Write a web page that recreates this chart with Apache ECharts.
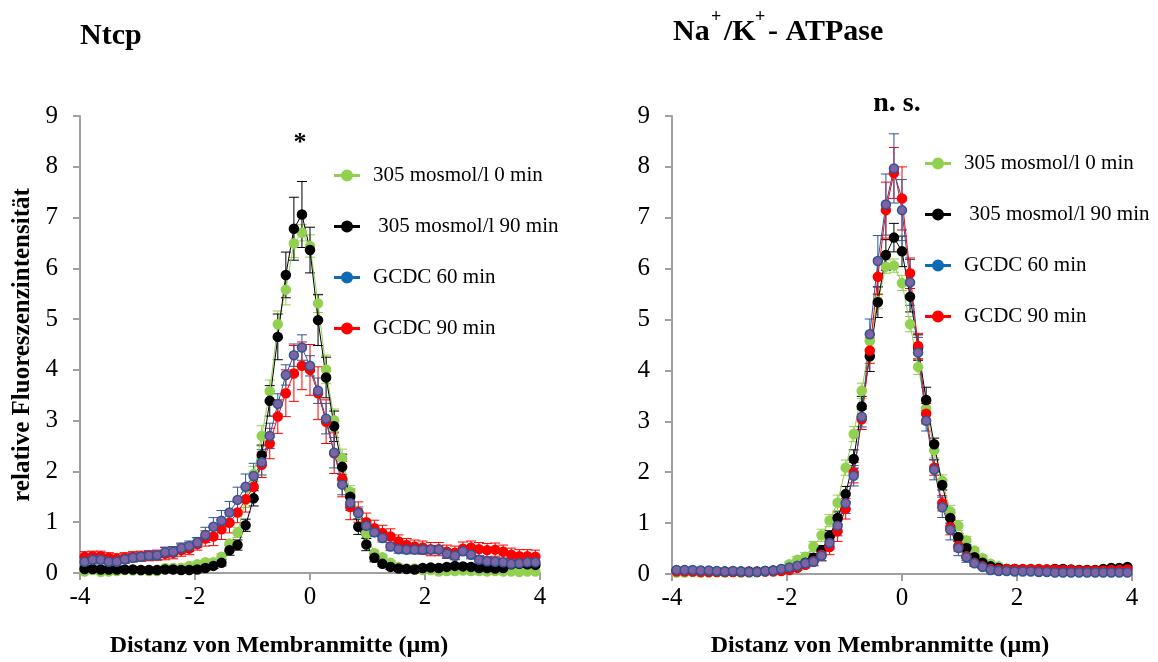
<!DOCTYPE html>
<html><head><meta charset="utf-8">
<script src="https://cdn.jsdelivr.net/npm/echarts@6/dist/echarts.min.js"></script>
<style>html,body{margin:0;padding:0;background:#fff}#c{width:1158px;height:662px}</style>
</head><body><div id="c"></div>
<script>
// Distance from membrane centre (µm)
const xPos = [-3.92,-3.78,-3.64,-3.50,-3.36,-3.22,-3.08,-2.94,-2.80,-2.66,
  -2.52,-2.38,-2.24,-2.10,-1.96,-1.82,-1.68,-1.54,-1.40,-1.26,
  -1.12,-0.98,-0.84,-0.70,-0.56,-0.42,-0.28,-0.14,0,0.14,
  0.28,0.42,0.56,0.70,0.84,0.98,1.12,1.26,1.40,1.54,
  1.68,1.82,1.96,2.10,2.24,2.38,2.52,2.66,2.80,2.94,
  3.08,3.22,3.36,3.50,3.64,3.78,3.92];
const seriesNames = ['305 mosmol/l 0 min', ' 305 mosmol/l 90 min', 'GCDC 60 min', 'GCDC 90 min'];
const xTicks = [-4, -2, 0, 2, 4];
const yTicks = [0,1,2,3,4,5,6,7,8,9];

// ---- Ntcp (left) ----
const ntcp0 = [0.03,0.06,0.02,0.03,0.04,0.06,0.05,0.05,0.04,0.04,
  0.10,0.10,0.10,0.14,0.17,0.21,0.21,0.32,0.58,0.80,
  1.44,1.95,2.70,3.58,4.90,5.58,6.49,6.70,6.44,5.31,
  4.01,3.01,2.26,1.60,1.17,0.78,0.39,0.31,0.20,0.12,
  0.09,0.09,0.06,0.06,0.03,0.04,0.04,0.05,0.04,0.04,
  0.03,0.04,0.03,0.03,0.02,0.03,0.03];
const ntcp0Err = [0.04,0.04,0.04,0.04,0.04,0.04,0.04,0.04,0.04,0.04,
  0.04,0.04,0.04,0.04,0.04,0.04,0.04,0.06,0.08,0.10,
  0.15,0.15,0.20,0.22,0.26,0.30,0.28,0.16,0.22,0.18,
  0.28,0.22,0.18,0.12,0.10,0.08,0.06,0.04,0.04,0.04,
  0.04,0.04,0.04,0.04,0.04,0.04,0.04,0.04,0.04,0.04,
  0.04,0.04,0.04,0.04,0.04,0.04,0.04];
const ntcp90 = [0.08,0.08,0.07,0.07,0.07,0.07,0.07,0.06,0.06,0.06,
  0.07,0.07,0.06,0.06,0.07,0.10,0.14,0.20,0.45,0.55,
  0.94,1.47,2.32,3.39,4.65,5.87,6.78,7.06,6.36,4.98,
  3.85,2.89,2.09,1.50,0.91,0.56,0.30,0.18,0.12,0.09,
  0.08,0.07,0.10,0.11,0.10,0.12,0.14,0.13,0.12,0.10,
  0.10,0.09,0.10,0.17,0.18,0.17,0.16];
const ntcp90Err = [0.05,0.05,0.05,0.05,0.05,0.05,0.05,0.05,0.05,0.05,
  0.05,0.05,0.05,0.05,0.05,0.05,0.05,0.06,0.10,0.10,
  0.12,0.15,0.20,0.30,0.45,0.45,0.62,0.65,0.45,0.50,
  0.40,0.30,0.25,0.15,0.15,0.12,0.08,0.05,0.05,0.05,
  0.05,0.05,0.05,0.05,0.05,0.05,0.05,0.05,0.05,0.05,
  0.05,0.05,0.05,0.05,0.05,0.05,0.05];
const ntcpG60 = [0.22,0.26,0.26,0.22,0.22,0.27,0.30,0.32,0.34,0.35,
  0.41,0.42,0.49,0.53,0.60,0.75,0.91,1.03,1.19,1.44,
  1.70,1.91,2.18,2.70,3.33,3.90,4.29,4.44,4.08,3.59,
  3.04,2.37,1.74,1.38,1.18,0.93,0.80,0.69,0.52,0.47,
  0.46,0.46,0.46,0.46,0.46,0.38,0.34,0.43,0.36,0.26,
  0.23,0.22,0.21,0.18,0.19,0.21,0.21];
const ntcpG60Err = [0.08,0.08,0.08,0.08,0.08,0.08,0.08,0.08,0.08,0.08,
  0.10,0.10,0.10,0.10,0.10,0.15,0.18,0.20,0.22,0.25,
  0.25,0.25,0.25,0.25,0.20,0.20,0.22,0.25,0.20,0.25,
  0.30,0.30,0.20,0.15,0.12,0.10,0.08,0.08,0.08,0.08,
  0.08,0.08,0.08,0.08,0.08,0.08,0.08,0.08,0.08,0.08,
  0.08,0.08,0.08,0.08,0.08,0.08,0.08];
const ntcpG90 = [0.32,0.33,0.33,0.30,0.28,0.30,0.32,0.33,0.34,0.35,
  0.38,0.40,0.45,0.48,0.57,0.68,0.72,0.86,0.99,1.19,
  1.45,1.70,2.13,2.55,3.08,3.54,3.93,4.08,4.00,3.54,
  2.98,2.36,1.85,1.30,1.20,1.00,0.88,0.79,0.72,0.62,
  0.55,0.52,0.50,0.47,0.47,0.42,0.40,0.48,0.50,0.47,
  0.45,0.46,0.42,0.36,0.33,0.33,0.32];
const ntcpG90Err = [0.10,0.10,0.10,0.10,0.10,0.10,0.10,0.10,0.10,0.10,
  0.12,0.12,0.12,0.12,0.12,0.15,0.18,0.20,0.20,0.20,
  0.25,0.25,0.25,0.30,0.33,0.46,0.55,0.47,0.50,0.52,
  0.43,0.40,0.35,0.25,0.20,0.18,0.16,0.15,0.15,0.13,
  0.13,0.13,0.13,0.13,0.13,0.13,0.13,0.13,0.13,0.13,
  0.13,0.13,0.13,0.13,0.13,0.13,0.13];

// ---- Na+/K+-ATPase (right) ----
const atp0 = [0.03,0.03,0.04,0.03,0.03,0.04,0.03,0.04,0.03,0.03,
  0.04,0.05,0.06,0.10,0.19,0.28,0.34,0.54,0.76,1.05,
  1.40,2.09,2.75,3.60,4.58,5.36,6.04,6.06,5.72,4.91,
  4.07,3.26,2.43,1.83,1.23,0.95,0.66,0.46,0.31,0.20,
  0.15,0.10,0.08,0.08,0.07,0.07,0.06,0.06,0.05,0.05,
  0.05,0.05,0.05,0.06,0.06,0.07,0.08];
const atp0Err = [0.03,0.03,0.03,0.03,0.03,0.03,0.03,0.03,0.03,0.03,
  0.03,0.03,0.03,0.04,0.05,0.06,0.08,0.10,0.12,0.12,
  0.15,0.15,0.15,0.15,0.15,0.15,0.13,0.13,0.15,0.15,
  0.15,0.15,0.15,0.12,0.12,0.10,0.08,0.06,0.05,0.03,
  0.03,0.03,0.03,0.03,0.03,0.03,0.03,0.03,0.03,0.03,
  0.03,0.03,0.03,0.03,0.03,0.03,0.03];
const atp90 = [0.07,0.07,0.06,0.06,0.06,0.05,0.05,0.05,0.05,0.05,
  0.05,0.06,0.07,0.08,0.10,0.15,0.22,0.32,0.46,0.75,
  1.10,1.57,2.26,3.29,4.28,5.34,6.27,6.61,6.34,5.45,
  4.45,3.42,2.55,1.75,1.10,0.72,0.51,0.33,0.22,0.15,
  0.12,0.10,0.10,0.09,0.09,0.09,0.09,0.10,0.10,0.09,
  0.08,0.08,0.08,0.10,0.12,0.12,0.14];
const atp90Err = [0.03,0.03,0.03,0.03,0.03,0.03,0.03,0.03,0.03,0.03,
  0.03,0.03,0.03,0.03,0.03,0.05,0.06,0.08,0.10,0.10,
  0.12,0.15,0.18,0.20,0.30,0.30,0.30,0.28,0.30,0.30,
  0.25,0.25,0.12,0.10,0.10,0.08,0.06,0.05,0.03,0.03,
  0.03,0.03,0.03,0.03,0.03,0.03,0.03,0.03,0.03,0.03,
  0.03,0.03,0.03,0.03,0.03,0.03,0.03];
const atpG60 = [0.08,0.08,0.08,0.07,0.07,0.06,0.05,0.06,0.05,0.04,
  0.04,0.06,0.07,0.10,0.13,0.16,0.21,0.24,0.36,0.61,
  0.95,1.39,1.93,3.09,4.71,6.15,7.26,7.97,7.15,5.73,
  4.35,3.01,2.05,1.31,0.87,0.51,0.33,0.21,0.14,0.08,
  0.06,0.06,0.05,0.05,0.05,0.04,0.04,0.03,0.03,0.03,
  0.03,0.03,0.03,0.03,0.03,0.03,0.03];
const atpG60Err = [0.03,0.03,0.03,0.03,0.03,0.03,0.03,0.03,0.03,0.03,
  0.03,0.03,0.03,0.03,0.03,0.05,0.06,0.08,0.10,0.12,
  0.20,0.20,0.20,0.20,0.30,0.50,0.60,0.68,0.60,0.45,
  0.30,0.20,0.20,0.20,0.20,0.15,0.10,0.06,0.03,0.03,
  0.03,0.03,0.03,0.03,0.03,0.03,0.03,0.03,0.03,0.03,
  0.03,0.03,0.03,0.03,0.03,0.03,0.03];
const atpG90 = [0.05,0.05,0.05,0.04,0.04,0.04,0.04,0.04,0.04,0.04,
  0.04,0.05,0.05,0.06,0.08,0.12,0.18,0.25,0.38,0.53,
  0.84,1.28,1.99,3.04,4.39,5.84,7.15,7.88,7.38,5.91,
  4.48,3.15,2.09,1.39,0.92,0.55,0.35,0.22,0.15,0.10,
  0.09,0.10,0.10,0.10,0.10,0.10,0.09,0.09,0.08,0.08,
  0.07,0.07,0.07,0.07,0.08,0.08,0.09];
const atpG90Err = [0.03,0.03,0.03,0.03,0.03,0.03,0.03,0.03,0.03,0.03,
  0.03,0.03,0.03,0.03,0.03,0.05,0.06,0.08,0.12,0.15,
  0.20,0.20,0.20,0.20,0.25,0.35,0.55,0.50,0.62,0.30,
  0.25,0.20,0.15,0.15,0.15,0.10,0.08,0.06,0.04,0.04,
  0.04,0.04,0.04,0.04,0.04,0.04,0.04,0.04,0.04,0.04,
  0.04,0.04,0.04,0.04,0.04,0.04,0.04];

const FONT = 'Liberation Serif';
const GREEN = '#92D050', BLACK = '#000000', BLUE = '#2F5597', PURPLE = '#8064A2', RED = '#FF0000', LEGBLUE = '#0E6AB3';
const LEGEND_ICON = 'path://M0,5.5L26,5.5L26,8.5L0,8.5Z M7,7A6,6 0 1,1 19,7A6,6 0 1,1 7,7Z';

function pairs(vals){ return vals.map((v,i)=>[xPos[i], v]); }
function triples(vals, errs){ return vals.map((v,i)=>[xPos[i], v, errs[i]]); }

function errSeries(name, vals, errs, color, gi){
  return {
    type: 'custom', name: name, xAxisIndex: gi, yAxisIndex: gi, clip: true,
    silent: true, encode: {x: 0, y: 1}, data: triples(vals, errs),
    renderItem: function(params, api){
      const x = api.value(0), y = api.value(1), e = api.value(2);
      const t = api.coord([x, y + e]), b = api.coord([x, y - e]);
      const hw = 5, st = {stroke: color, lineWidth: 1};
      return {type: 'group', children: [
        {type: 'line', shape: {x1: t[0], y1: t[1], x2: b[0], y2: b[1]}, style: st},
        {type: 'line', shape: {x1: t[0]-hw, y1: t[1], x2: t[0]+hw, y2: t[1]}, style: st},
        {type: 'line', shape: {x1: b[0]-hw, y1: b[1], x2: b[0]+hw, y2: b[1]}, style: st}
      ]};
    }
  };
}
function lineSeries(name, vals, fill, border, lineColor, gi){
  return {
    type: 'line', name: name, xAxisIndex: gi, yAxisIndex: gi, data: pairs(vals),
    symbol: 'circle', symbolSize: 9, showSymbol: true,
    itemStyle: {color: fill, borderColor: border, borderWidth: 1.5},
    lineStyle: {color: lineColor, width: 1}, emphasis: {disabled: true}
  };
}
function plotSeries(gi, d){
  return [
    errSeries(seriesNames[0], d[0], d[1], GREEN, gi),
    lineSeries(seriesNames[0], d[0], GREEN, GREEN, GREEN, gi),
    errSeries(seriesNames[1], d[2], d[3], BLACK, gi),
    lineSeries(seriesNames[1], d[2], BLACK, BLACK, BLACK, gi),
    errSeries(seriesNames[3], d[6], d[7], RED, gi),
    lineSeries(seriesNames[3], d[6], RED, RED, RED, gi),
    errSeries(seriesNames[2], d[4], d[5], BLUE, gi),
    lineSeries(seriesNames[2], d[4], PURPLE, BLUE, BLUE, gi)
  ];
}

function xAxis(gi){
  return {type: 'value', gridIndex: gi, min: xTicks[0], max: xTicks[xTicks.length-1], interval: 2,
    axisLine: {onZero: false, lineStyle: {color: '#A0A0A0', width: 2}},
    axisTick: {show: true, length: 7, lineStyle: {color: '#A0A0A0', width: 2}},
    axisLabel: {color: '#000', fontFamily: FONT, fontSize: 25, margin: 12},
    splitLine: {show: false}};
}
function yAxis(gi){
  return {type: 'value', gridIndex: gi, min: yTicks[0], max: yTicks[yTicks.length-1], interval: 1,
    axisLine: {show: true, onZero: false, lineStyle: {color: '#A0A0A0', width: 2}},
    axisTick: {show: true, length: 7, lineStyle: {color: '#A0A0A0', width: 2}},
    axisLabel: {color: '#000', fontFamily: FONT, fontSize: 25, margin: 22},
    splitLine: {show: false}};
}
function legend(left, top){
  const item = (name, c) => ({name: name, icon: LEGEND_ICON, itemStyle: {color: c, borderWidth: 0}});
  return {
    left: left, top: top, orient: 'vertical', itemGap: 30, itemWidth: 26, itemHeight: 12,
    selectedMode: false,
    textStyle: {fontFamily: FONT, fontSize: 21, color: '#000', padding: [0, 0, 0, 8]},
    data: [item(seriesNames[0], GREEN), item(seriesNames[1], BLACK), item(seriesNames[2], LEGBLUE), item(seriesNames[3], RED)]
  };
}

const chart = echarts.init(document.getElementById('c'), null, {renderer: 'canvas'});
chart.setOption({
  animation: false,
  backgroundColor: '#fff',
  textStyle: {fontFamily: FONT},
  grid: [
    {left: 80, top: 116, width: 460, height: 457},
    {left: 672, top: 116, width: 460, height: 458}
  ],
  xAxis: [xAxis(0), xAxis(1)],
  yAxis: [yAxis(0), yAxis(1)],
  legend: [legend(329, 160), legend(920, 148)],
  series: [].concat(
    plotSeries(0, [ntcp0, ntcp0Err, ntcp90, ntcp90Err, ntcpG60, ntcpG60Err, ntcpG90, ntcpG90Err]),
    plotSeries(1, [atp0, atp0Err, atp90, atp90Err, atpG60, atpG60Err, atpG90, atpG90Err])
  ),
  graphic: [
    {type: 'text', left: 80, top: 21, style: {text: 'Ntcp', font: 'bold 30px "Liberation Serif"', fill: '#000'}},
    {type: 'text', left: 673, top: 17, style: {text: 'Na', font: 'bold 30px "Liberation Serif"', fill: '#000'}},
    {type: 'text', left: 711, top: 8, style: {text: '+', font: 'bold 18px "Liberation Serif"', fill: '#000'}},
    {type: 'text', left: 724, top: 17, style: {text: '/K', font: 'bold 30px "Liberation Serif"', fill: '#000'}},
    {type: 'text', left: 755, top: 8, style: {text: '+', font: 'bold 18px "Liberation Serif"', fill: '#000'}},
    {type: 'text', left: 768, top: 17, style: {text: '- ATPase', font: 'bold 30px "Liberation Serif"', fill: '#000'}},
    {type: 'text', x: 300, y: 143, style: {text: '*', font: 'bold 26px "Liberation Serif"', fill: '#000', align: 'center', verticalAlign: 'middle'}},
    {type: 'text', x: 897, y: 104, style: {text: 'n. s.', font: 'bold 28px "Liberation Serif"', fill: '#000', align: 'center', verticalAlign: 'middle'}},
    {type: 'text', x: 279, y: 646, style: {text: 'Distanz von Membranmitte (µm)', font: 'bold 24px "Liberation Serif"', fill: '#000', align: 'center', verticalAlign: 'middle'}},
    {type: 'text', x: 880, y: 646, style: {text: 'Distanz von Membranmitte (µm)', font: 'bold 24px "Liberation Serif"', fill: '#000', align: 'center', verticalAlign: 'middle'}},
    {type: 'text', x: 23, y: 345, rotation: Math.PI / 2, style: {text: 'relative Fluoreszenzintensität', font: 'bold 25px "Liberation Serif"', fill: '#000', align: 'center', verticalAlign: 'middle'}}
  ]
});
</script>
</body></html>
